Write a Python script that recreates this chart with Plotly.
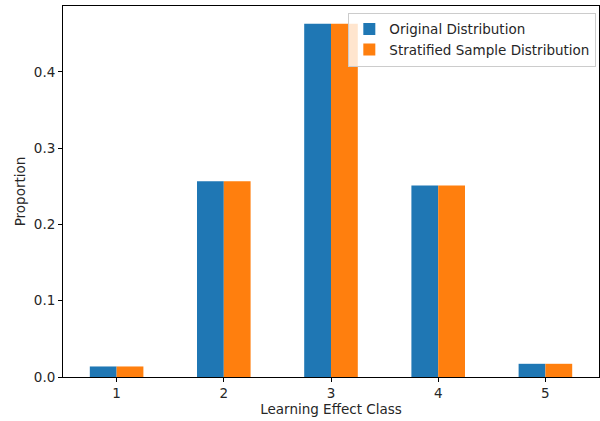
import plotly.graph_objects as go

classes = [1, 2, 3, 4, 5]
original = [0.0138, 0.2566, 0.4632, 0.2512, 0.0173]
stratified = [0.0138, 0.2566, 0.4632, 0.2512, 0.0173]
y_ticks = [0.0, 0.1, 0.2, 0.3, 0.4]

font = "DejaVu Sans"
fs = 13.5
fig = go.Figure()
fig.add_trace(go.Bar(x=classes, y=original, name="Original Distribution",
                     marker=dict(color="#1f77b4", line=dict(width=0))))
fig.add_trace(go.Bar(x=classes, y=stratified, name="Stratified Sample Distribution",
                     marker=dict(color="#ff7f0e", line=dict(width=0))))

fig.update_layout(
    width=600, height=421,
    margin=dict(l=63, r=1, t=6, b=44, autoexpand=False),
    paper_bgcolor="white", plot_bgcolor="white",
    font=dict(family=font, size=fs, color="#262626"),
    barmode="group", bargap=0.5, bargroupgap=0,
    showlegend=True,
    legend=dict(x=0.995, y=0.982, xanchor="right", yanchor="top",
                bgcolor="rgba(255,255,255,0.8)", bordercolor="#cccccc", borderwidth=1,
                font=dict(family=font, size=fs, color="#262626"),
                tracegroupgap=0, itemwidth=30),
    xaxis=dict(
        title=dict(text="Learning Effect Class", font=dict(size=fs), standoff=4),
        tickmode="array", tickvals=classes, ticktext=[str(c) for c in classes],
        range=[0.5, 5.5], showgrid=False, zeroline=False,
        showline=True, linecolor="black", linewidth=1, mirror=True,
        ticks="outside", ticklen=4, tickcolor="black",
    ),
    yaxis=dict(
        title=dict(text="Proportion", font=dict(size=fs), standoff=5),
        tickmode="array", tickvals=y_ticks, ticktext=[f"{v:.1f}" for v in y_ticks],
        range=[0, 0.4864], showgrid=False, zeroline=False,
        showline=True, linecolor="black", linewidth=1, mirror=True,
        ticks="outside", ticklen=4, tickcolor="black",
    ),
)
fig.write_html("out.html", config={"displayModeBar": False},
               post_script="document.body.style.margin='0';document.body.style.padding='0';")
